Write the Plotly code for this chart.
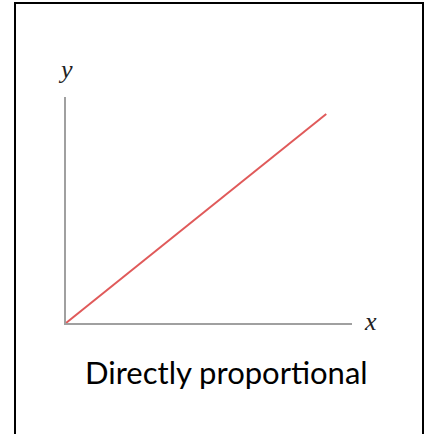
import plotly.graph_objects as go

# Data
x_values = [0, 9.1]
y_values = [0, 9.25]
x_range = [0, 10]
y_range = [0, 10]
title_text = "Directly proportional"
x_label = "x"
y_label = "y"

W, H = 428, 434

def px(xp):
    return xp / W

def py(yp):
    return 1 - yp / H

fig = go.Figure()
fig.add_trace(go.Scatter(
    x=x_values, y=y_values, mode="lines",
    line=dict(color="#e05a5a", width=2),
    hoverinfo="skip", showlegend=False,
))

axis_common = dict(showgrid=False, zeroline=False, showticklabels=False, ticks="",
                   showline=True, linecolor="#a0a0a0", linewidth=1.5, fixedrange=True)

fig.update_layout(
    width=W, height=H,
    margin=dict(l=0, r=0, t=0, b=0),
    paper_bgcolor="white", plot_bgcolor="white",
    xaxis=dict(range=x_range, domain=[px(66), px(352)], **axis_common),
    yaxis=dict(range=y_range, domain=[py(323), py(97)], **axis_common),
    shapes=[dict(type="rect", xref="paper", yref="paper",
                 x0=px(15), x1=px(423), y0=-0.05, y1=py(3),
                 line=dict(color="black", width=2), fillcolor="rgba(0,0,0,0)")],
    annotations=[
        dict(text="<i>" + y_label + "</i>", xref="paper", yref="paper",
             x=px(65), y=py(70), xanchor="center", yanchor="middle", showarrow=False,
             font=dict(family="Liberation Serif, DejaVu Serif", size=26, color="#222")),
        dict(text="<i>" + x_label + "</i>", xref="paper", yref="paper",
             x=px(370), y=py(321), xanchor="center", yanchor="middle", showarrow=False,
             font=dict(family="Liberation Serif, DejaVu Serif", size=26, color="#222")),
        dict(text=title_text, xref="paper", yref="paper",
             x=px(226), y=py(372), xanchor="center", yanchor="middle", showarrow=False,
             font=dict(family="Comic Sans MS, Lato, Noto Sans", size=31, color="black")),
    ],
)

fig.write_html("out.html", config={"displayModeBar": False},
               post_script="document.body.style.margin='0';document.body.style.overflow='hidden';")
